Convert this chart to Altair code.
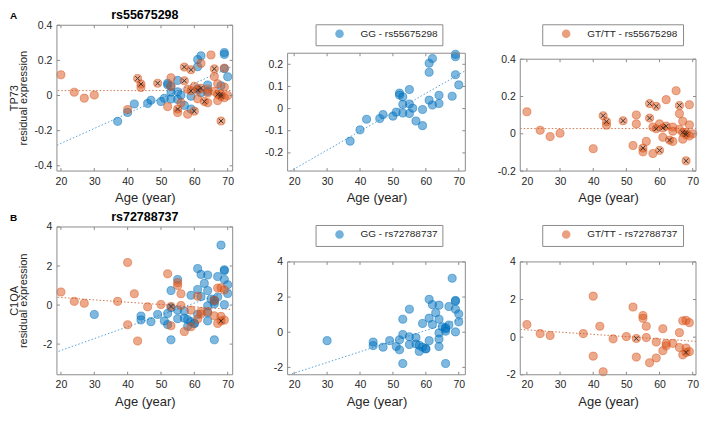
import altair as alt
import pandas as pd

# ---------------- data ----------------
XTICKS = [20, 30, 40, 50, 60, 70]

# rs55675298, genotype GG (blue)
gg55_age = [37, 40, 42, 46, 47, 50, 51, 52, 52, 53, 53, 53, 55, 55, 55, 56, 57, 59, 59,
            61, 61, 62, 61, 62, 64, 64, 68, 69, 69, 69, 70]
gg55_val = [-0.147, -0.096, -0.048, -0.045, -0.027, -0.034, -0.016, 0.070, 0.061, 0.053,
            0.019, -0.020, 0.086, 0.021, -0.022, 0.002, -0.056, -0.004, -0.077, 0.164,
            0.205, 0.226, 0.038, 0.016, 0.060, 0.023, 0.056, 0.245, 0.234, 0.153, 0.107]

# rs55675298, genotype GT/TT (orange); cross = marked with an x
gt55_age = [20, 24, 27, 30, 40, 43, 44, 44, 49, 52, 53, 53, 55, 55, 56, 57, 57, 58, 58, 59,
            59, 60, 60, 61, 61, 62, 62, 63, 64, 64, 64, 65, 66, 66, 66, 67, 67, 67, 68, 68,
            68, 69, 69, 69, 70]
gt55_val = [0.118, 0.019, -0.015, 0.003, -0.080, 0.097, 0.065, 0.046, 0.070, -0.063, 0.101,
            0.053, -0.077, -0.097, -0.041, 0.162, 0.084, -0.106, 0.036, 0.147, 0.027, 0.053,
            -0.089, -0.019, 0.031, 0.183, 0.041, -0.034, -0.041, 0.036, 0.014, 0.231, 0.152,
            0.108, 0.024, 0.067, 0.007, -0.029, 0.007, -0.005, -0.145, 0.156, 0.048, -0.012,
            0.000]
gt55_cross = [0, 0, 0, 0, 0, 1, 1, 0, 1, 0, 0, 0, 1, 0, 0, 1, 1, 0, 0, 1, 1, 0, 1, 0, 1, 0, 1,
              1, 0, 0, 0, 0, 1, 0, 0, 0, 1, 0, 1, 1, 1, 0, 0, 0, 0]

# rs72788737, genotype GG (blue)
gg72_age = [30, 44, 44, 47, 49, 51, 52, 52, 53, 53, 53, 55, 55, 55, 57, 57, 58, 58, 59, 59,
            60, 60, 61, 61, 61, 62, 62, 63, 64, 64, 64, 64, 64, 65, 66, 66, 66, 67, 67, 68,
            69, 69, 69, 69, 70, 70, 66]
gg72_val = [-0.48, -0.56, -0.76, -0.85, -0.48, -0.81, -0.43, -1.00, 0.74, -0.13, -1.78, 1.31,
            -0.26, -0.70, -0.31, -0.67, -0.74, -1.09, -0.85, 0.50, -0.93, -0.95, -0.48, 0.80,
            1.87, 1.57, 0.44, 1.11, 1.54, 0.74, -0.04, -0.39, -0.81, 0.31, 0.19, 0.06, -1.78,
            0.41, 1.46, 3.07, 1.81, 1.76, 1.31, 0.02, 1.04, 0.59, 0.26]

# rs72788737, genotype GT/TT (orange)
gt72_age = [20, 24, 27, 37, 40, 40, 42, 43, 46, 50, 52, 53, 53, 55, 55, 56, 56, 57, 59, 59,
            61, 61, 62, 62, 64, 66, 66, 67, 67, 68, 68, 68, 69, 69]
gt72_val = [0.67, 0.19, 0.09, 0.19, 2.18, -1.01, 0.58, -1.84, -0.09, 0.03, 1.60, -0.07, -1.06,
            1.15, 1.00, 0.58, -0.02, -1.36, -0.26, -1.11, 0.45, -0.72, -0.33, -0.46, -0.33,
            0.24, -0.55, 0.87, -0.94, 0.89, -0.58, -0.81, 0.77, -0.77]
gt72_cross = [0, 0, 0, 0, 0, 0, 0, 0, 0, 0, 0, 1, 0, 0, 0, 0, 0, 0, 0, 0, 0, 0, 0, 0, 0, 0, 0,
              0, 0, 0, 0, 1, 0, 0]

# dotted trend lines: end points
tr55_gg_x = [18.8, 72.0]
tr55_gg_y = [-0.283, 0.171]
tr55_gt_x = [18.0, 71.5]
tr55_gt_y = [0.028, 0.028]
tr72_gg_x = [18.3, 72.0]
tr72_gg_y = [-2.43, 0.83]
tr72_gt_x = [18.0, 71.5]
tr72_gt_y = [0.41, -0.23]

# ---------------- styling ----------------
FONT = "Liberation Sans"
FRAME = "#8c8c8c"
TXT = "#262626"
BLUE = "#0072BD"
ORANGE = "#D95319"
BLUE_LINE = "#5aa3da"
ORANGE_LINE = "#cf7a55"
LABEL_EXPR = "replace(format(datum.value, '~g'), '\u2212', '-')"
CROSS = "M-1,-1L1,1M-1,1L1,-1"


def make_panel(w, h, ytop, xdom, ydom, yticks, series, lines, legend=None,
               ytitle=None, title=None, letter=None):
    xs = alt.Scale(domain=xdom, nice=False, zero=False)
    ys = alt.Scale(domain=ydom, nice=False, zero=False, range=[h, ytop])
    xax = alt.Axis(values=XTICKS, title="Age (year)", labelExpr=LABEL_EXPR)
    yax = alt.Axis(values=yticks, title=None, labelExpr=LABEL_EXPR)

    def X():
        return alt.X("x:Q", scale=xs, axis=xax)

    def Y():
        return alt.Y("y:Q", scale=ys, axis=yax)

    one = pd.DataFrame({"k": [0]})
    layers = []

    # trend lines
    for lx, ly, col in lines:
        layers.append(
            alt.Chart(pd.DataFrame({"x": lx, "y": ly}))
            .mark_line(color=col, strokeDash=[1.5, 2], strokeWidth=1, clip=True)
            .encode(x=X(), y=Y())
        )

    # scatter points
    for ages, vals, col, lab, cross in series:
        df = pd.DataFrame({"x": ages, "y": vals, "g": lab, "c": cross})
        if legend is not None:
            color = alt.Color("g:N", scale=alt.Scale(domain=[lab], range=[col]),
                              legend=alt.Legend(orient="none", legendX=legend[0],
                                                legendY=legend[1], title=None))
        else:
            color = alt.value(col)
        layers.append(
            alt.Chart(df)
            .mark_circle(size=66, opacity=1, fillOpacity=0.5, stroke=col,
                         strokeWidth=0.7, strokeOpacity=0.7)
            .encode(x=X(), y=Y(), color=color)
        )
        if cross is not None:
            dfc = df[df["c"] == 1]
            layers.append(
                alt.Chart(dfc)
                .mark_point(shape=CROSS, size=22, filled=False, stroke="#1a1a1a",
                            strokeWidth=1, opacity=0.8)
                .encode(x=X(), y=Y())
            )

    # frame
    layers.append(
        alt.Chart(one).mark_rect(filled=False, stroke=FRAME, strokeWidth=1)
        .encode(x=alt.value(0), x2=alt.value(w), y=alt.value(ytop), y2=alt.value(h))
    )
    # inward ticks on all four sides
    xt = pd.DataFrame({"x": XTICKS})
    yt = pd.DataFrame({"y": yticks})
    layers.append(alt.Chart(xt).mark_rule(color=FRAME, strokeWidth=1)
                  .encode(x=X(), y=alt.value(h), y2=alt.value(h - 3)))
    layers.append(alt.Chart(xt).mark_rule(color=FRAME, strokeWidth=1)
                  .encode(x=X(), y=alt.value(ytop), y2=alt.value(ytop + 3)))
    layers.append(alt.Chart(yt).mark_rule(color=FRAME, strokeWidth=1)
                  .encode(y=Y(), x=alt.value(0), x2=alt.value(3)))
    layers.append(alt.Chart(yt).mark_rule(color=FRAME, strokeWidth=1)
                  .encode(y=Y(), x=alt.value(w), x2=alt.value(w - 3)))

    # texts
    if title is not None:
        layers.append(
            alt.Chart(pd.DataFrame({"t": [title]}))
            .mark_text(font=FONT, fontSize=12.5, fontWeight="bold", color="#000000",
                       align="center", baseline="alphabetic")
            .encode(text="t:N", x=alt.value(w / 2), y=alt.value(-6))
        )
    if letter is not None:
        layers.append(
            alt.Chart(pd.DataFrame({"t": [letter]}))
            .mark_text(font=FONT, fontSize=10, fontWeight="bold", color="#000000",
                       align="left", baseline="alphabetic")
            .encode(text="t:N", x=alt.value(-47), y=alt.value(-6))
        )
    if ytitle is not None:
        for txt, xoff in zip(ytitle, [-42, -33]):
            layers.append(
                alt.Chart(pd.DataFrame({"t": [txt]}))
                .mark_text(font=FONT, fontSize=11, color=TXT, angle=270,
                           align="center", baseline="middle")
                .encode(text="t:N", x=alt.value(xoff), y=alt.value(h / 2))
            )

    return alt.layer(*layers).properties(width=w, height=h)


W1, W2, W3 = 176, 178, 176
H1, H2 = 146, 148

p1 = make_panel(W1, H1, 0, [18.8, 71.5], [-0.43, 0.4], [-0.4, -0.2, 0, 0.2, 0.4],
                [(gg55_age, gg55_val, BLUE, "GG - rs55675298", None),
                 (gt55_age, gt55_val, ORANGE, "GT/TT - rs55675298", gt55_cross)],
                [(tr55_gt_x, tr55_gt_y, ORANGE_LINE), (tr55_gg_x, tr55_gg_y, BLUE_LINE)],
                ytitle=["TP73", "residual expression"], title="rs55675298", letter="A")
p2 = make_panel(W2, H1, 28, [18.0, 72.0], [-0.282, 0.25], [-0.2, -0.1, 0, 0.1, 0.2],
                [(gg55_age, gg55_val, BLUE, "GG - rs55675298", None)],
                [(tr55_gg_x, tr55_gg_y, BLUE_LINE)], legend=(28, -1))
p3 = make_panel(W3, H1, 34, [18.0, 71.0], [-0.2, 0.4], [-0.2, 0, 0.2, 0.4],
                [(gt55_age, gt55_val, ORANGE, "GT/TT - rs55675298", gt55_cross)],
                [(tr55_gt_x, tr55_gt_y, ORANGE_LINE)], legend=(22, -1))
p4 = make_panel(W1, H2, 0, [18.8, 71.5], [-3.57, 4], [-2, 0, 2, 4],
                [(gg72_age, gg72_val, BLUE, "GG - rs72788737", None),
                 (gt72_age, gt72_val, ORANGE, "GT/TT - rs72788737", gt72_cross)],
                [(tr72_gt_x, tr72_gt_y, ORANGE_LINE), (tr72_gg_x, tr72_gg_y, BLUE_LINE)],
                ytitle=["C1QA", "residual expression"], title="rs72788737", letter="B")
p5 = make_panel(W2, H2, 35, [18.0, 72.0], [-2.42, 4], [-2, 0, 2, 4],
                [(gg72_age, gg72_val, BLUE, "GG - rs72788737", None)],
                [(tr72_gg_x, tr72_gg_y, BLUE_LINE)], legend=(28, -2))
p6 = make_panel(W3, H2, 35, [18.0, 71.0], [-2, 4], [-2, 0, 2, 4],
                [(gt72_age, gt72_val, ORANGE, "GT/TT - rs72788737", gt72_cross)],
                [(tr72_gt_x, tr72_gt_y, ORANGE_LINE)], legend=(22, -2))

chart = (
    alt.concat(p1, p2, p3, p4, p5, p6, columns=3,
               spacing={"row": 56, "column": 55}, bounds="flush")
    .resolve_scale(color="independent", x="independent", y="independent")
    .resolve_legend(color="independent")
    .properties(padding=1, background="white")
    .configure(font=FONT)
    .configure_view(strokeWidth=0)
    .configure_axis(domain=False, grid=False, ticks=False, labelFont=FONT,
                    labelFontSize=10.5, labelColor=TXT, labelPadding=5,
                    titleFont=FONT, titleFontSize=13, titleFontWeight="normal",
                    titleColor=TXT, titlePadding=5)
    .configure_legend(strokeColor=FRAME, fillColor="white", padding=4.5,
                      symbolOffset=14.5, labelOffset=16, labelFont=FONT,
                      labelFontSize=10, labelColor=TXT, symbolSize=50,
                      symbolOpacity=0.55, symbolType="circle", cornerRadius=0)
)

chart.save("out.html", embed_options={"renderer": "svg", "actions": False})
